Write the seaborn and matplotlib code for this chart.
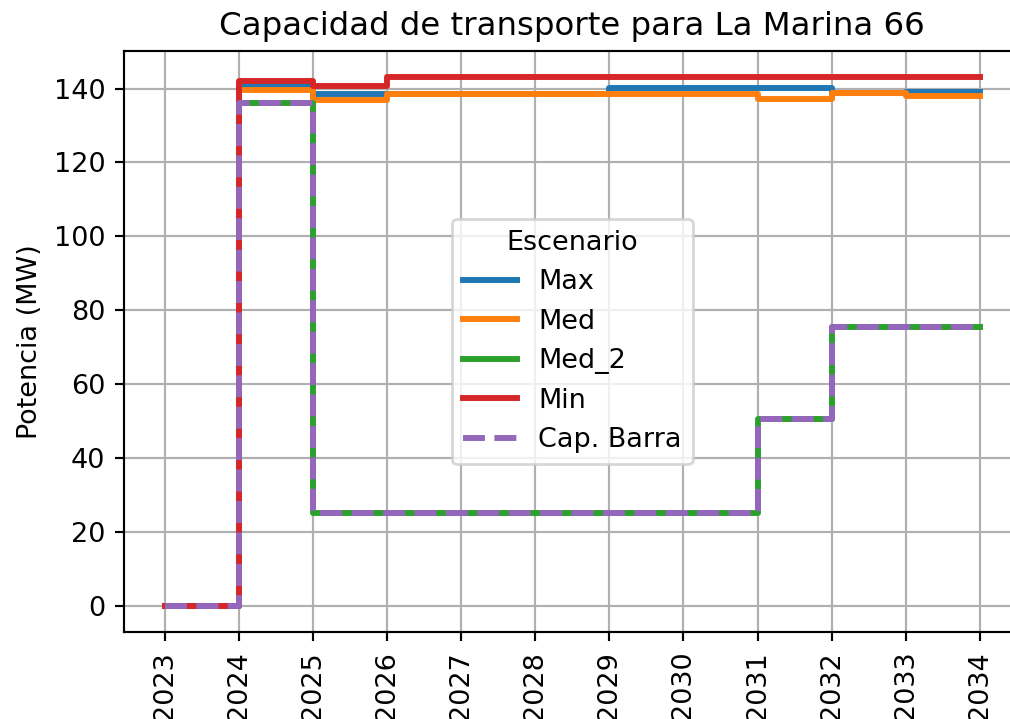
import numpy as np
import pandas as pd
import seaborn as sns
import matplotlib.pyplot as plt

# --- Datos ---
anios = [2023, 2024, 2025, 2026, 2027, 2028, 2029, 2030, 2031, 2032, 2033, 2034]
cap_max = [0, 140.8, 138.5, 138.5, 138.5, 138.5, 140.2, 140.2, 140.2, 138.8, 139.1, 139.1]
cap_med = [0, 139.5, 136.8, 138.5, 138.5, 138.5, 138.5, 138.5, 137.1, 138.8, 137.9, 137.9]
cap_med2 = [0, 136.2, 25, 25, 25, 25, 25, 25, 50.5, 75.5, 75.5, 75.5]
cap_min = [0, 142.0, 140.8, 143, 143, 143, 143, 143, 143, 143, 143, 143]
cap_barra = [0, 136.2, 25, 25, 25, 25, 25, 25, 50.5, 75.5, 75.5, 75.5]

series = {
    'Max': cap_max,
    'Med': cap_med,
    'Med_2': cap_med2,
    'Min': cap_min,
    'Cap. Barra': cap_barra,
}
colores = sns.color_palette('tab10')

# la figura original esta recortada a la derecha (el eje sigue fuera)
dpi = 194
fig, ax = plt.subplots(figsize=(1010 / dpi, 719 / dpi), dpi=dpi)
fig.subplots_adjust(left=0.1228, right=1.0105, top=0.929, bottom=0.121)

for i, (nombre, valores) in enumerate(series.items()):
    df = pd.DataFrame({'anio': anios, 'valor': valores})
    estilo = '--' if nombre == 'Cap. Barra' else '-'
    sns.lineplot(data=df, x='anio', y='valor', ax=ax, label=nombre,
                 color=colores[i], linewidth=2.2, linestyle=estilo,
                 drawstyle='steps-post')

ax.set_xticks(anios)
ax.set_xticklabels([str(a) for a in anios], rotation=90)
ax.set_xlabel('')
ax.set_ylabel('Potencia (MW)')
ax.set_title('Capacidad de transporte para La Marina 66')
ax.grid(True)
ax.legend(title='Escenario', loc='center')

plt.savefig('out.png', dpi=dpi)
